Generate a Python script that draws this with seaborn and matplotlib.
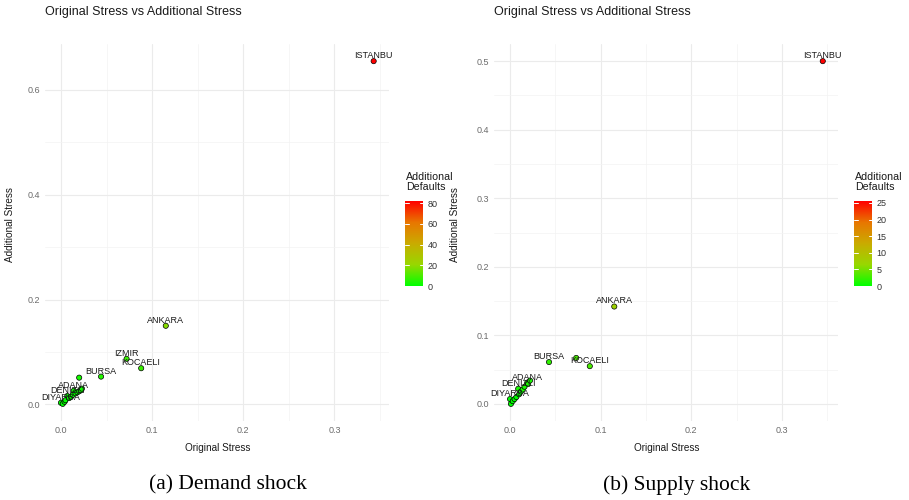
import numpy as np
import pandas as pd
import matplotlib
matplotlib.use("Agg")
import matplotlib.pyplot as plt
import seaborn as sns
from matplotlib.colors import LinearSegmentedColormap, Normalize
from matplotlib.cm import ScalarMappable
from matplotlib.ticker import MultipleLocator, FormatStrFormatter

# demand shock panel
demand_names = ["ISTANBU", "ANKARA", "IZMIR", "KOCAELI", "BURSA", "", "ADANA", "DENIZLI", "DIYARBA",
                "", "", "", "", "", "", "", "", "", "", ""]
demand_orig = [0.343, 0.115, 0.072, 0.088, 0.044, 0.020, 0.014, 0.007, 0.000,
               0.002, 0.004, 0.005, 0.009, 0.011, 0.013, 0.016, 0.018, 0.020, 0.022, 0.023]
demand_add = [0.655, 0.150, 0.087, 0.069, 0.053, 0.051, 0.026, 0.016, 0.003,
              0.001, 0.005, 0.008, 0.012, 0.015, 0.018, 0.021, 0.023, 0.025, 0.027, 0.030]
demand_defaults = [82, 18, 8, 8, 5, 3, 2, 1, 0,
                   0, 0, 0, 1, 1, 1, 1, 1, 2, 2, 2]
demand_ticks = [0, 20, 40, 60, 80]

# supply shock panel
supply_names = ["ISTANBU", "ANKARA", "", "KOCAELI", "BURSA", "ADANA", "DENIZLI", "DIYARBA",
                "", "", "", "", "", "", "", "", "", ""]
supply_orig = [0.345, 0.115, 0.073, 0.088, 0.043, 0.019, 0.009, 0.000,
               0.001, 0.003, 0.005, 0.007, 0.010, 0.012, 0.014, 0.016, 0.020, 0.022]
supply_add = [0.500, 0.142, 0.067, 0.055, 0.061, 0.031, 0.022, 0.007,
              0.000, 0.004, 0.007, 0.010, 0.014, 0.018, 0.021, 0.025, 0.029, 0.034]
supply_defaults = [25.6, 7, 3, 3, 2, 1, 1, 0,
                   0, 0, 0, 0, 0, 0, 1, 1, 1, 1]
supply_ticks = [0, 5, 10, 15, 20, 25]

sns.set_theme(style="whitegrid")
plt.rcParams["font.family"] = ["Liberation Sans", "DejaVu Sans"]

# ggplot green -> red gradient (Lab interpolation, approximated)
gg_cmap = LinearSegmentedColormap.from_list(
    "gg", ["#00FF00", "#98D700", "#C9AB00", "#E87600", "#FF0000"])

W, H = 909, 500
fig = plt.figure(figsize=(W / 100, H / 100), dpi=100)
fig.patch.set_facecolor("white")


def fx(px):
    return px / W


def fy(py):
    return 1 - py / H


def draw_panel(left_px, names, orig, add, defaults, ticks, y_major, ylab_px, caption, cap_x):
    ax = fig.add_axes([fx(left_px), fy(421), 344 / W, 377 / H])
    df = pd.DataFrame({"orig": orig, "add": add, "defaults": defaults})
    vmax = df["defaults"].max()
    sns.scatterplot(data=df, x="orig", y="add", hue="defaults", palette=gg_cmap,
                    hue_norm=(0, vmax), s=14, edgecolor="black", linewidth=0.5,
                    legend=False, ax=ax, zorder=3)
    ax.margins(0.05)
    for name, xv, yv in zip(names, orig, add):
        if name:
            ax.annotate(name, (xv, yv), xytext=(0, 0.8), textcoords="offset points",
                        ha="center", va="bottom", fontsize=6.5, color="#1a1a1a", zorder=4)

    ax.set_facecolor("white")
    for sp in ax.spines.values():
        sp.set_visible(False)
    ax.xaxis.set_major_locator(MultipleLocator(0.1))
    ax.xaxis.set_minor_locator(MultipleLocator(0.05))
    ax.yaxis.set_major_locator(MultipleLocator(y_major))
    ax.yaxis.set_minor_locator(MultipleLocator(y_major / 2))
    ax.xaxis.set_major_formatter(FormatStrFormatter("%.1f"))
    ax.yaxis.set_major_formatter(FormatStrFormatter("%.1f"))
    ax.grid(which="major", color="#EBEBEB", linewidth=0.8)
    ax.grid(which="minor", color="#F3F3F3", linewidth=0.5)
    ax.tick_params(which="both", length=0, labelsize=6.5, labelcolor="#6b6b6b", pad=3.5)

    ax.set_xlabel("Original Stress", fontsize=7.2, color="#1a1a1a", labelpad=6)
    ax.set_ylabel("Additional Stress", fontsize=7.2, color="#1a1a1a")
    ax.yaxis.label.set_va("center")
    ax.yaxis.set_label_coords((ylab_px - left_px) / 344, 0.52)

    fig.text(fx(left_px), fy(12), "Original Stress vs Additional Stress",
             ha="left", va="center", fontsize=9, color="#1a1a1a")

    # colour bar legend
    cb_left = left_px + 360
    cax = fig.add_axes([fx(cb_left), fy(286), 18 / W, 85 / H])
    cb = fig.colorbar(ScalarMappable(norm=Normalize(0, vmax), cmap=gg_cmap), cax=cax)
    cb.outline.set_visible(False)
    cb.set_ticks(ticks)
    cax.tick_params(length=0, labelsize=6.5, labelcolor="#333333", pad=3)
    for t in ticks:
        cax.axhline(t, xmin=0, xmax=0.2, color="white", linewidth=0.7)
        cax.axhline(t, xmin=0.8, xmax=1, color="white", linewidth=0.7)
    fig.text(fx(cb_left + 1), fy(172), "Additional\nDefaults", ha="left", va="top",
             fontsize=7.7, color="#1a1a1a", linespacing=1.0)

    fig.text(fx(cap_x), fy(485), caption, ha="center", va="center",
             family="Liberation Serif", fontsize=15.5, color="black")
    return ax


draw_panel(45.3, demand_names, demand_orig, demand_add, demand_defaults, demand_ticks,
           0.2, 10, "(a) Demand shock", 228)
draw_panel(494.4, supply_names, supply_orig, supply_add, supply_defaults, supply_ticks,
           0.1, 455, "(b) Supply shock", 677)

fig.savefig("out.png", dpi=100, facecolor="white")
